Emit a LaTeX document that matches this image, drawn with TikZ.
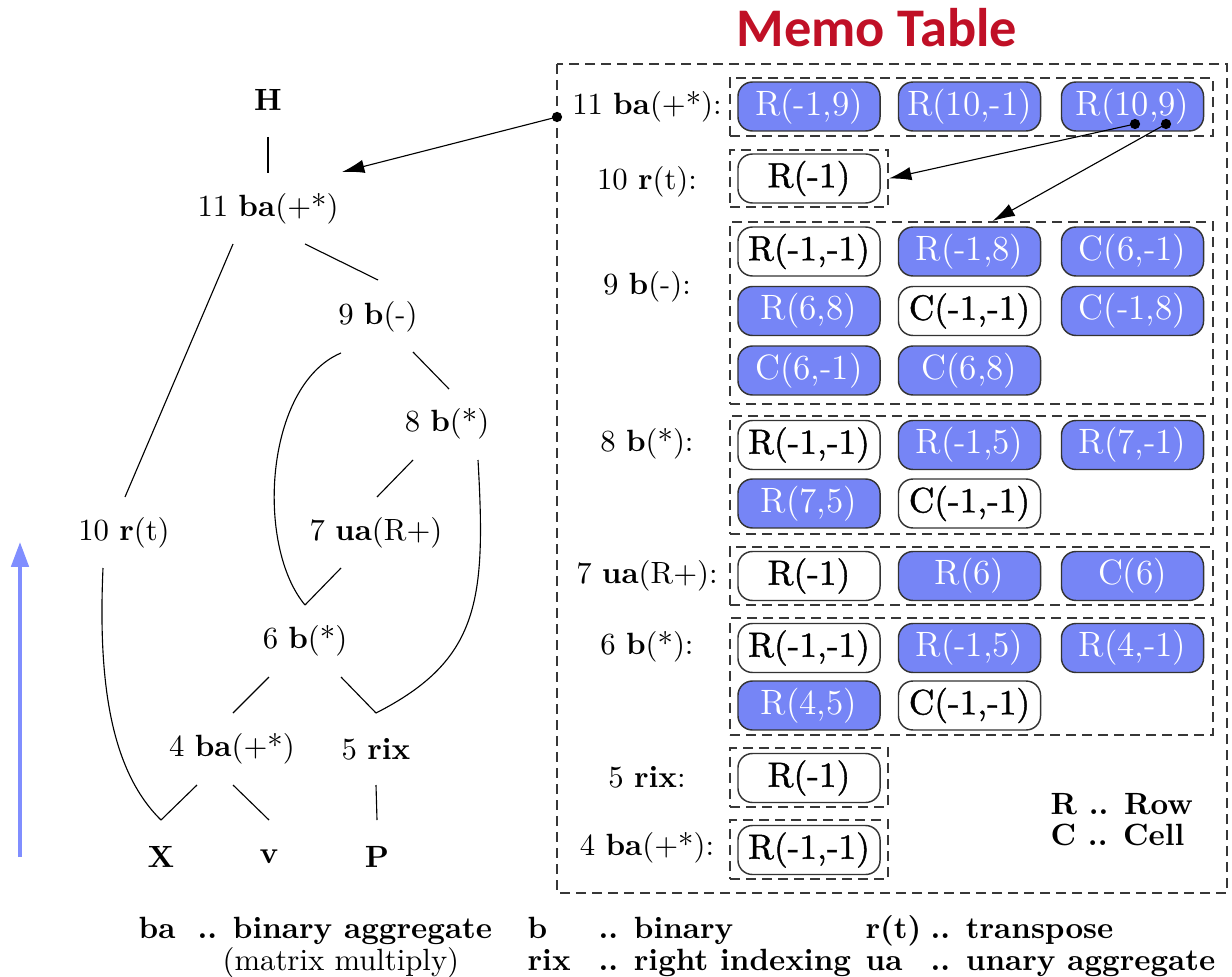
\documentclass[tikz,border=0pt]{standalone}
\usepackage{fontspec}
\newfontfamily\titlefont{Carlito}
\newfontfamily\heavyfont[FakeBold=1.2]{Latin Modern Roman}
\usetikzlibrary{arrows.meta,calc}
\definecolor{cellblue}{RGB}{118,133,246}
\definecolor{memored}{RGB}{192,16,38}
\definecolor{upblue}{RGB}{128,142,255}
\definecolor{dashgray}{RGB}{55,55,55}
\begin{document}
\begin{tikzpicture}[x=0.3125pt,y=-0.3125pt,
  lbl/.style={font=\fontsize{9.6}{11}\selectfont, inner sep=0pt},
  cell/.style={draw=black!80, line width=0.45pt, rounded corners=4.5pt,
    minimum width=44.4pt, minimum height=15.3pt, inner sep=0pt},
  cellon/.style={cell, fill=cellblue, text=white, font=\fontsize{11}{13}\selectfont},
  celloff/.style={cell, fill=white, text=black, font=\heavyfont\fontsize{11}{13}\selectfont},
  grp/.style={draw=dashgray, line width=0.6pt, dash pattern=on 3.1pt off 1.9pt, inner sep=0pt},
  treeedge/.style={line width=0.35pt},
  ptr/.style={line width=0.35pt, -{Latex[length=7pt,width=4.2pt]}},
  tipdot/.style={circle, fill=black, inner sep=0pt, minimum size=3.2pt},
  keytext/.style={font=\fontsize{9.6}{11}\selectfont\bfseries, inner sep=0pt, anchor=base west},
  plaintext/.style={font=\fontsize{9.6}{11}\selectfont, inner sep=0pt, anchor=base west}
]
\useasboundingbox (0,0) rectangle (1232,977);

% ---------- expression DAG ----------
\node[lbl] (H)   at (268,100) {\textbf{H}};
\node[lbl] (n11) at (268,209) {11 \textbf{ba}(+*)};
\node[lbl] (n9)  at (378,317) {9 \textbf{b}(-)};
\node[lbl] (n8)  at (447,424) {8 \textbf{b}(*)};
\node[lbl] (n10) at (124,533) {10 \textbf{r}(t)};
\node[lbl] (n7)  at (376,533) {7 \textbf{ua}(R+)};
\node[lbl] (n6)  at (305,641) {6 \textbf{b}(*)};
\node[lbl] (n4)  at (232,749) {4 \textbf{ba}(+*)};
\node[lbl] (n5)  at (376,749) {5 \textbf{rix}};
\node[lbl] (X)   at (161,857) {\textbf{X}};
\node[lbl] (v)   at (269,857) {\textbf{v}};
\node[lbl] (P)   at (377,857) {\textbf{P}};

\draw[treeedge] ($(H)+(0,37)$) -- ($(n11)+(0,-36)$);
\draw[treeedge] ($(n11)+(37,35)$) -- ($(n9)+(0,-37)$);
\draw[treeedge] ($(n11)+(-35,35)$) -- ($(n10)+(1,-36)$);
\draw[treeedge] ($(n9)+(35,35)$) -- ($(n8)+(2,-35)$);
\draw[treeedge] ($(n9)+(-37,36)$) .. controls (265,385) and (255,545) .. ($(n6)+(0,-36)$);
\draw[treeedge] ($(n8)+(-34,36)$) -- ($(n7)+(1,-36)$);
\draw[treeedge] ($(n8)+(31,36)$) .. controls (486,600) and (480,660) .. ($(n5)+(0,-36)$);
\draw[treeedge] ($(n7)+(-35,35)$) -- ($(n6)+(0,-36)$);
\draw[treeedge] ($(n10)+(-21,35)$) .. controls (98,680) and (110,770) .. ($(X)+(0,-37)$);
\draw[treeedge] ($(n6)+(-36,36)$) -- ($(n4)+(1,-36)$);
\draw[treeedge] ($(n6)+(36,36)$) -- ($(n5)+(0,-36)$);
\draw[treeedge] ($(n4)+(-35,36)$) -- ($(X)+(0,-37)$);
\draw[treeedge] ($(n4)+(1,36)$) -- ($(v)+(0,-37)$);
\draw[treeedge] ($(n5)+(0,36)$) -- ($(P)+(0,-37)$);

% bottom-up direction
\coordinate (upfoot) at (20,857);
\coordinate (uphead) at (20,542);
\draw[line width=1.25pt, upblue, -{Triangle[length=7.8pt,width=5.4pt]}] (upfoot) -- (uphead);

% ---------- memo table ----------
\node[font=\titlefont\bfseries\fontsize{17}{20}\selectfont, text=memored, inner sep=0pt] (title) at (877,28) {Memo Table};
\draw[grp] (557,64) rectangle (1227,893);

\node[grp, minimum width=150.94pt, minimum height=18.13pt] (g11) at (971.5,107) {};
\node[grp, minimum width=49.38pt,  minimum height=17.81pt] (g10) at (809,178.5) {};
\node[grp, minimum width=150.94pt, minimum height=56.88pt] (g9)  at (971.5,313) {};
\node[grp, minimum width=150.94pt, minimum height=36.88pt] (g8)  at (971.5,475) {};
\node[grp, minimum width=150.94pt, minimum height=18.13pt] (g7)  at (971.5,576) {};
\node[grp, minimum width=150.94pt, minimum height=36.56pt] (g6)  at (971.5,676.5) {};
\node[grp, minimum width=49.38pt,  minimum height=18.44pt] (g5)  at (809,777.5) {};
\node[grp, minimum width=49.38pt,  minimum height=18.44pt] (g4)  at (809,849.5) {};

\node[lbl] (l11) at (647,107) {11 \textbf{ba}(+*):};
\node[lbl] (l10) at (647,182) {10 \textbf{r}(t):};
\node[lbl] (l9)  at (647,287) {9 \textbf{b}(-):};
\node[lbl] (l8)  at (647,444) {8 \textbf{b}(*):};
\node[lbl] (l7)  at (647,576) {7 \textbf{ua}(R+):};
\node[lbl] (l6)  at (647,647) {6 \textbf{b}(*):};
\node[lbl] (l5)  at (647,777) {5 \textbf{rix}:};
\node[lbl] (l4)  at (647,848) {4 \textbf{ba}(+*):};

% entries of node 11
\node[cellon]  (b11a) at (809,106.5)    {R(-1,9)};
\node[cellon]  (b11b) at (969.5,106.5)  {R(10,-1)};
\node[cellon]  (b11c) at (1132.5,106.5) {R(10,9)};
% entries of node 10
\node[celloff] (b10a) at (809,178.5) {R(-1)};
% entries of node 9
\node[celloff] (b9a) at (809,251.5)    {R(-1,-1)};
\node[cellon]  (b9b) at (969.5,251.5)  {R(-1,8)};
\node[cellon]  (b9c) at (1132.5,251.5) {C(6,-1)};
\node[cellon]  (b9d) at (809,311)      {R(6,8)};
\node[celloff] (b9e) at (969.5,311)    {C(-1,-1)};
\node[cellon]  (b9f) at (1132.5,311)   {C(-1,8)};
\node[cellon]  (b9g) at (809,370.5)    {C(6,-1)};
\node[cellon]  (b9h) at (969.5,370.5)  {C(6,8)};
% entries of node 8
\node[celloff] (b8a) at (809,445)      {R(-1,-1)};
\node[cellon]  (b8b) at (969.5,445)    {R(-1,5)};
\node[cellon]  (b8c) at (1132.5,445)   {R(7,-1)};
\node[cellon]  (b8d) at (809,503.5)    {R(7,5)};
\node[celloff] (b8e) at (969.5,503.5)  {C(-1,-1)};
% entries of node 7
\node[celloff] (b7a) at (809,576)      {R(-1)};
\node[cellon]  (b7b) at (969.5,576)    {R(6)};
\node[cellon]  (b7c) at (1132.5,576)   {C(6)};
% entries of node 6
\node[celloff] (b6a) at (809,648)      {R(-1,-1)};
\node[cellon]  (b6b) at (969.5,648)    {R(-1,5)};
\node[cellon]  (b6c) at (1132.5,648)   {R(4,-1)};
\node[cellon]  (b6d) at (809,705.5)    {R(4,5)};
\node[celloff] (b6e) at (969.5,705.5)  {C(-1,-1)};
% entries of nodes 5 and 4
\node[celloff] (b5a) at (809,778) {R(-1)};
\node[celloff] (b4a) at (809,850) {R(-1,-1)};

\node[keytext] (kR) at (1050,814) {R .. Row};
\node[keytext] (kC) at (1050,845) {C .. Cell};

% pointers between plan nodes and memo entries
\node[tipdot] (src11) at (557,117) {};
\draw[ptr] (src11.center) -- ($(n11)+(74,-37)$);
\node[tipdot] (d1) at ($(b11c)+(2.5,17.5)$) {};
\node[tipdot] (d2) at ($(b11c)+(33.5,17.5)$) {};
\draw[ptr] (d1.center) -- (g10.east);
\draw[ptr] (d2.center) -- ($(g9.north)+(21,0)$);

% ---------- abbreviations ----------
\node[keytext] (a1) at (138,938) {ba};
\node[keytext] (a2) at (197,938) {.. binary aggregate};
\node[plaintext] (a3) at (222,970) {(matrix multiply)};
\node[keytext] (a4) at (527,938) {b};
\node[keytext] (a5) at (598,938) {.. binary};
\node[keytext] (a6) at (527,970) {rix};
\node[keytext] (a7) at (598,970) {.. right indexing};
\node[keytext] (a8) at (865,938) {r(t)};
\node[keytext] (a9) at (930,938) {.. transpose};
\node[keytext] (a10) at (865,970) {ua};
\node[keytext] (a11) at (930,970) {.. unary aggregate};
\end{tikzpicture}
\end{document}
